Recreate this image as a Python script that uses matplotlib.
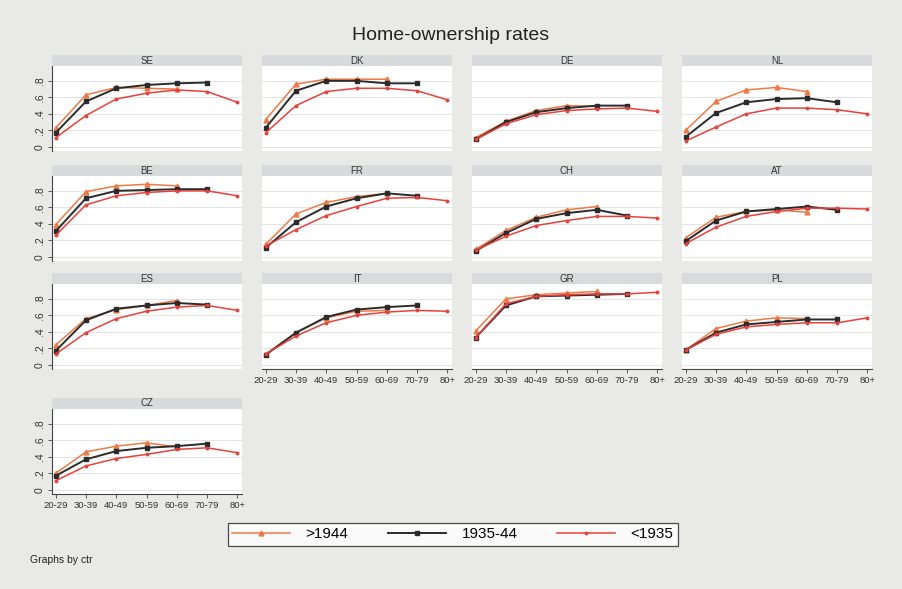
import matplotlib
matplotlib.use("Agg")
import matplotlib.pyplot as plt
from matplotlib import rcParams

rcParams['font.family'] = ['Liberation Sans', 'DejaVu Sans']

# age groups and countries (panel order)
ages = ['20-29', '30-39', '40-49', '50-59', '60-69', '70-79', '80+']
countries = ['SE', 'DK', 'DE', 'NL', 'BE', 'FR', 'CH', 'AT', 'ES', 'IT', 'GR', 'PL', 'CZ']

# cohort born >1944 (observed 20-29 .. 60-69)
post1944 = [
    [0.23, 0.63, 0.72, 0.71, 0.70],   # SE
    [0.33, 0.76, 0.82, 0.82, 0.82],   # DK
    [0.11, 0.31, 0.44, 0.50, 0.49],   # DE
    [0.20, 0.55, 0.69, 0.72, 0.67],   # NL
    [0.39, 0.79, 0.86, 0.88, 0.86],   # BE
    [0.15, 0.52, 0.66, 0.73, 0.77],   # FR
    [0.09, 0.32, 0.48, 0.57, 0.61],   # CH
    [0.23, 0.48, 0.55, 0.57, 0.54],   # AT
    [0.24, 0.56, 0.67, 0.72, 0.78],   # ES
    [0.13, 0.39, 0.57, 0.65, 0.66],   # IT
    [0.41, 0.80, 0.85, 0.87, 0.89],   # GR
    [0.18, 0.44, 0.53, 0.57, 0.56],   # PL
    [0.20, 0.46, 0.53, 0.57, 0.52],   # CZ
]
# cohort born 1935-44 (observed 20-29 .. 70-79)
c1935_44 = [
    [0.17, 0.55, 0.71, 0.75, 0.77, 0.78],
    [0.23, 0.68, 0.80, 0.80, 0.77, 0.77],
    [0.09, 0.30, 0.42, 0.47, 0.50, 0.50],
    [0.12, 0.41, 0.54, 0.58, 0.59, 0.54],
    [0.31, 0.71, 0.80, 0.81, 0.82, 0.82],
    [0.11, 0.42, 0.61, 0.71, 0.77, 0.74],
    [0.07, 0.29, 0.46, 0.53, 0.57, 0.50],
    [0.19, 0.44, 0.55, 0.58, 0.61, 0.57],
    [0.17, 0.54, 0.68, 0.72, 0.75, 0.73],
    [0.12, 0.39, 0.58, 0.67, 0.70, 0.72],
    [0.33, 0.72, 0.83, 0.84, 0.85, 0.86],
    [0.18, 0.39, 0.49, 0.52, 0.55, 0.55],
    [0.17, 0.37, 0.47, 0.51, 0.53, 0.56],
]
# cohort born <1935 (observed 20-29 .. 80+)
pre1935 = [
    [0.11, 0.38, 0.58, 0.65, 0.69, 0.67, 0.54],
    [0.17, 0.50, 0.67, 0.71, 0.71, 0.68, 0.57],
    [0.09, 0.28, 0.39, 0.44, 0.46, 0.47, 0.43],
    [0.07, 0.24, 0.40, 0.47, 0.47, 0.45, 0.40],
    [0.26, 0.63, 0.74, 0.78, 0.80, 0.80, 0.74],
    [0.13, 0.33, 0.50, 0.61, 0.71, 0.72, 0.68],
    [0.08, 0.25, 0.38, 0.44, 0.49, 0.49, 0.47],
    [0.16, 0.36, 0.49, 0.55, 0.59, 0.59, 0.58],
    [0.13, 0.39, 0.56, 0.65, 0.70, 0.72, 0.66],
    [0.13, 0.35, 0.51, 0.60, 0.64, 0.66, 0.65],
    [0.33, 0.74, 0.83, 0.85, 0.86, 0.86, 0.88],
    [0.18, 0.37, 0.46, 0.49, 0.51, 0.51, 0.57],
    [0.11, 0.29, 0.38, 0.43, 0.49, 0.51, 0.45],
]
cohort_labels = ['>1944', '1935-44', '<1935']
yticks = [0, 0.2, 0.4, 0.6, 0.8]
yticklabels = ['0', '.2', '.4', '.6', '.8']

W, H = 902, 589
bg = '#e9e9e8'
strip_col = '#d9dadb'
c_orange = '#ee7a45'
c_black = '#2b2b2b'
c_red = '#e8413c'

fig = plt.figure(figsize=(W / 100, H / 100), dpi=100, facecolor=bg)


def rect(left, top, w, h):
    return [left / W, 1 - (top + h) / H, w / W, h / H]


col_left = [52, 262, 472, 682]
row_top = [66, 176, 284, 409]
pw, ph = 190, 85
bottom_panels = {'IT', 'GR', 'PL', 'CZ'}

x = list(range(len(ages)))
handles = None
for i, ctr in enumerate(countries):
    r, c = divmod(i, 4)
    ax = fig.add_axes(rect(col_left[c], row_top[r], pw, ph))
    ax.set_facecolor('white')
    ax.set_xlim(-0.12, 6.15)
    ax.set_ylim(-0.05, 0.98)
    ax.set_yticks(yticks)
    ax.yaxis.grid(True, color='#e4e4e4', lw=0.7)
    ax.set_axisbelow(True)
    for s in ['top', 'right']:
        ax.spines[s].set_visible(False)

    l1, = ax.plot(x[:5], post1944[i], color=c_orange, lw=1.1, marker='^', ms=3.5,
                  label=cohort_labels[0])
    l2, = ax.plot(x[:6], c1935_44[i], color=c_black, lw=1.4, marker='s', ms=3.5,
                  label=cohort_labels[1])
    l3, = ax.plot(x, pre1935[i], color=c_red, lw=1.1, marker='o', ms=1.8,
                  label=cohort_labels[2])
    handles = [l1, l2, l3]

    if c == 0:
        ax.set_yticklabels(yticklabels, rotation=90, va='center', fontsize=7.5, color='#333333')
        ax.tick_params(axis='y', length=3, width=0.6, color='#444444', pad=2)
        ax.spines['left'].set_color('#444444')
        ax.spines['left'].set_linewidth(0.8)
    else:
        ax.spines['left'].set_visible(False)
        ax.tick_params(axis='y', length=0, labelleft=False)

    if ctr in bottom_panels:
        ax.set_xticks(x)
        ax.set_xticklabels(ages, fontsize=6.8, color='#333333')
        ax.tick_params(axis='x', length=3, width=0.6, color='#444444', pad=2)
        ax.spines['bottom'].set_color('#444444')
        ax.spines['bottom'].set_linewidth(0.8)
    else:
        ax.spines['bottom'].set_visible(False)
        ax.set_xticks([])

    # panel strip
    sax = fig.add_axes(rect(col_left[c], row_top[r] - 11, pw, 11))
    sax.set_facecolor(strip_col)
    sax.set_xticks([])
    sax.set_yticks([])
    for s in sax.spines.values():
        s.set_visible(False)
    sax.text(0.5, 0.5, ctr, ha='center', va='center', fontsize=7, color='#333333',
             transform=sax.transAxes)

fig.text(0.5, 1 - 35 / H, 'Home-ownership rates', ha='center', va='center',
         fontsize=14, color='#222222')

leg = fig.legend(handles, cohort_labels, ncol=3, loc='center',
                 bbox_to_anchor=(453 / W, 1 - 534.5 / H),
                 frameon=True, fancybox=False, fontsize=11,
                 handlelength=3.8, borderpad=0.3, handletextpad=1.0,
                 columnspacing=2.6, borderaxespad=0)
leg.get_frame().set_edgecolor('#222222')
leg.get_frame().set_linewidth(0.9)
leg.get_frame().set_facecolor('white')

fig.text(30 / W, 1 - 560 / H, 'Graphs by ctr', ha='left', va='center',
         fontsize=7.5, color='#222222')

fig.savefig('out.png', dpi=100, facecolor=bg)
